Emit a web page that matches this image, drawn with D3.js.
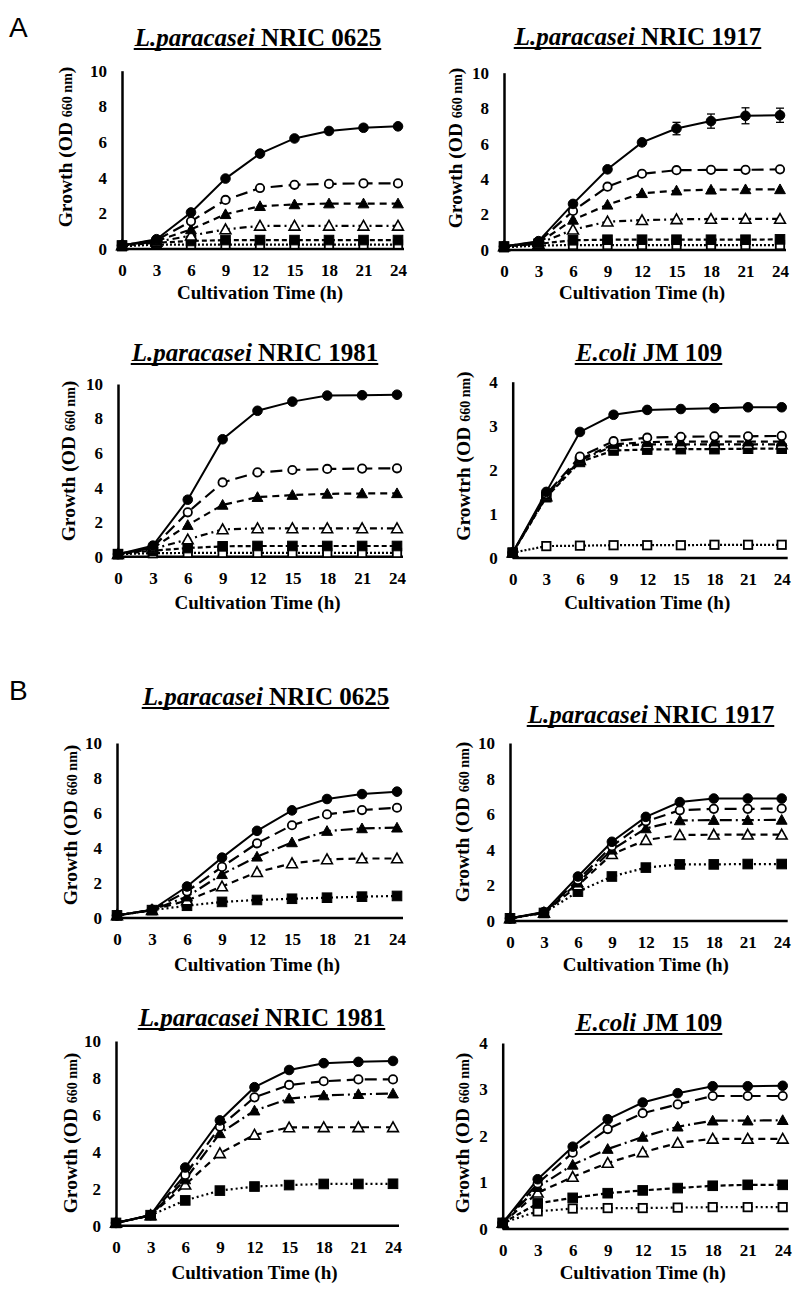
<!DOCTYPE html>
<html>
<head>
<meta charset="utf-8">
<script src="https://cdn.jsdelivr.net/npm/d3@7"></script>
<style>
  body { margin: 0; background: #fff; }
  svg text { font-family: "Liberation Serif", "Times New Roman", serif; font-weight: bold; fill: #000; }
  .panel-letter { font-family: "Liberation Sans", Arial, sans-serif; font-weight: normal; font-size: 28px; }
</style>
</head>
<body>
<div class="chart"></div>
<script>
// sampling times (h)
var hours = [0, 3, 6, 9, 12, 15, 18, 21, 24];
var odTicks10 = [0, 2, 4, 6, 8, 10];
var odTicks4 = [0, 1, 2, 3, 4];

// rows: filled circle, open circle, filled triangle, open triangle, filled square, open square
var a0625 = [
  [0.2, 0.55, 2.05, 3.95, 5.35, 6.2, 6.62, 6.8, 6.88],
  [0.2, 0.5, 1.55, 2.75, 3.42, 3.6, 3.65, 3.68, 3.68],
  [0.2, 0.45, 1.1, 1.95, 2.4, 2.5, 2.55, 2.55, 2.55],
  [0.2, 0.4, 0.75, 1.1, 1.3, 1.3, 1.3, 1.3, 1.3],
  [0.2, 0.35, 0.45, 0.5, 0.5, 0.5, 0.5, 0.5, 0.5],
  [0.15, 0.25, 0.25, 0.25, 0.25, 0.25, 0.25, 0.25, 0.25]
];
var a1917 = [
  [0.2, 0.5, 2.6, 4.55, 6.07, 6.85, 7.27, 7.57, 7.6],
  [0.2, 0.45, 2.2, 3.57, 4.3, 4.5, 4.52, 4.52, 4.55],
  [0.2, 0.4, 1.7, 2.55, 3.2, 3.35, 3.4, 3.42, 3.42],
  [0.2, 0.35, 1.15, 1.6, 1.68, 1.73, 1.75, 1.75, 1.75],
  [0.2, 0.35, 0.55, 0.58, 0.58, 0.58, 0.58, 0.58, 0.6],
  [0.15, 0.25, 0.28, 0.28, 0.28, 0.28, 0.28, 0.28, 0.28]
];
var a1917Err = [0, 0, 0.1, 0.1, 0.1, 0.35, 0.4, 0.45, 0.4];
var a1981 = [
  [0.15, 0.64, 3.3, 6.8, 8.45, 8.98, 9.33, 9.35, 9.38],
  [0.15, 0.55, 2.57, 4.3, 4.88, 5.02, 5.08, 5.1, 5.12],
  [0.15, 0.5, 1.83, 3.0, 3.45, 3.57, 3.64, 3.66, 3.67],
  [0.15, 0.45, 1.0, 1.58, 1.64, 1.64, 1.64, 1.64, 1.64],
  [0.15, 0.35, 0.5, 0.6, 0.62, 0.62, 0.62, 0.62, 0.62],
  [0.15, 0.2, 0.22, 0.22, 0.22, 0.22, 0.22, 0.22, 0.22]
];
var aJM109 = [
  [0.12, 1.5, 2.86, 3.25, 3.36, 3.38, 3.4, 3.42, 3.42],
  [0.12, 1.45, 2.3, 2.65, 2.73, 2.75, 2.76, 2.76, 2.77],
  [0.12, 1.42, 2.24, 2.58, 2.63, 2.64, 2.64, 2.64, 2.64],
  [0.12, 1.4, 2.22, 2.54, 2.58, 2.58, 2.58, 2.58, 2.58],
  [0.12, 1.38, 2.18, 2.44, 2.46, 2.47, 2.47, 2.48, 2.48],
  [0.12, 0.27, 0.28, 0.29, 0.29, 0.29, 0.3, 0.3, 0.3]
];
var b0625 = [
  [0.15, 0.47, 1.8, 3.45, 4.98, 6.15, 6.8, 7.08, 7.22],
  [0.15, 0.46, 1.52, 2.92, 4.27, 5.3, 5.92, 6.17, 6.3],
  [0.15, 0.45, 1.22, 2.5, 3.5, 4.32, 4.97, 5.12, 5.16],
  [0.15, 0.45, 1.0, 1.8, 2.62, 3.12, 3.35, 3.4, 3.4],
  [0.15, 0.45, 0.7, 0.92, 1.03, 1.1, 1.16, 1.22, 1.26]
];
var b1917 = [
  [0.15, 0.5, 2.5, 4.45, 5.85, 6.68, 6.88, 6.88, 6.88],
  [0.15, 0.48, 2.3, 4.2, 5.6, 6.22, 6.3, 6.3, 6.32],
  [0.15, 0.47, 2.15, 4.0, 5.2, 5.65, 5.67, 5.67, 5.68],
  [0.15, 0.46, 2.0, 3.75, 4.55, 4.83, 4.85, 4.85, 4.85],
  [0.15, 0.45, 1.65, 2.5, 3.0, 3.18, 3.18, 3.2, 3.2]
];
var b1981 = [
  [0.15, 0.58, 3.15, 5.7, 7.5, 8.43, 8.8, 8.87, 8.92],
  [0.15, 0.57, 2.75, 5.36, 6.95, 7.62, 7.82, 7.92, 7.92],
  [0.15, 0.56, 2.5, 5.0, 6.23, 6.88, 7.05, 7.12, 7.15],
  [0.15, 0.56, 2.22, 3.92, 4.92, 5.32, 5.33, 5.33, 5.33],
  [0.15, 0.57, 1.37, 1.9, 2.12, 2.2, 2.26, 2.26, 2.27]
];
var bJM109 = [
  [0.13, 1.07, 1.77, 2.36, 2.72, 2.92, 3.07, 3.07, 3.08],
  [0.13, 0.98, 1.64, 2.15, 2.49, 2.68, 2.86, 2.86, 2.86],
  [0.13, 0.9, 1.38, 1.72, 1.98, 2.2, 2.33, 2.33, 2.34],
  [0.13, 0.78, 1.12, 1.42, 1.65, 1.85, 1.94, 1.94, 1.94],
  [0.13, 0.55, 0.67, 0.77, 0.83, 0.88, 0.93, 0.95, 0.95],
  [0.13, 0.38, 0.44, 0.45, 0.45, 0.46, 0.47, 0.47, 0.47]
];

var markers = ["circle", "circle", "triangle", "triangle", "square", "square"];
var filled = [true, false, true, false, true, false];
var dashA = [null, "12,6", "7,5", "7,4,2,4", "5,3", "2,2"];
var dashB = [null, "12,6", "12,4,2,4", "7,5", "2,3"];
var dashB4 = [null, "12,6", "12,4,2,4", "7,5", "5,3", "2,3"];

// panel layout (pixel frame of each plot)
var panels = [
  {rows: a0625, dash: dashA, sp: "L.paracasei", st: " NRIC 0625", ymax: 10, ticks: odTicks10, ylab: "Growth (OD ",
   x0: 122, x1: 398, y0: 249, y1: 70.7, tx: 258, ty: 46, labX: 65, labY: 147, xtY: 299},
  {rows: a1917, err: a1917Err, dash: dashA, sp: "L.paracasei", st: " NRIC 1917", ymax: 10, ticks: odTicks10, ylab: "Growth (OD ",
   x0: 504, x1: 780, y0: 250, y1: 72.7, tx: 638, ty: 45, labX: 455, labY: 148, xtY: 299},
  {rows: a1981, dash: dashA, sp: "L.paracasei", st: " NRIC 1981", ymax: 10, ticks: odTicks10, ylab: "Growth (OD ",
   x0: 118, x1: 397, y0: 556.7, y1: 384, tx: 255, ty: 361, labX: 68, labY: 461, xtY: 609},
  {rows: aJM109, dash: dashA, sp: "E.coli", st: " JM 109", ymax: 4, ticks: odTicks4, ylab: "Growtrh (OD ",
   x0: 512.7, x1: 781.7, y0: 558, y1: 381.7, tx: 649, ty: 361, labX: 463, labY: 456, xtY: 609},
  {rows: b0625, dash: dashB, sp: "L.paracasei", st: " NRIC 0625", ymax: 10, ticks: odTicks10, ylab: "Growth (OD ",
   x0: 117, x1: 397, y0: 918, y1: 743, tx: 266, ty: 705, labX: 70, labY: 825, xtY: 971},
  {rows: b1917, dash: dashB, sp: "L.paracasei", st: " NRIC 1917", ymax: 10, ticks: odTicks10, ylab: "Growth (OD ",
   x0: 510, x1: 781.7, y0: 921, y1: 743, tx: 651, ty: 723, labX: 462, labY: 822, xtY: 971},
  {rows: b1981, dash: dashB, sp: "L.paracasei", st: " NRIC 1981", ymax: 10, ticks: odTicks10, ylab: "Growth (OD ",
   x0: 116, x1: 393, y0: 1225.7, y1: 1041, tx: 262, ty: 1026, labX: 70, labY: 1133, xtY: 1279},
  {rows: bJM109, dash: dashB4, sp: "E.coli", st: " JM 109", ymax: 4, ticks: odTicks4, ylab: "Growth (OD ",
   x0: 502.7, x1: 782.7, y0: 1229, y1: 1043, tx: 649, ty: 1031, labX: 462, labY: 1133, xtY: 1279}
];

var svg = d3.select(".chart").append("svg")
  .attr("width", 794)
  .attr("height", 1289);

svg.append("text").attr("class", "panel-letter").attr("x", 9).attr("y", 37).text("A");
svg.append("text").attr("class", "panel-letter").attr("x", 9).attr("y", 700).text("B");

function drawMarker(g, type, isFilled, cx, cy) {
  var fill = isFilled ? "#000" : "#fff";
  if (type === "circle") {
    g.append("circle").attr("cx", cx).attr("cy", cy).attr("r", isFilled ? 4.8 : 4.2)
      .attr("fill", fill).attr("stroke", "#000").attr("stroke-width", isFilled ? 1 : 1.8);
  } else if (type === "triangle") {
    var s = 5.4;
    g.append("path")
      .attr("d", `M${cx},${cy - s} L${cx + s},${cy + s * 0.8} L${cx - s},${cy + s * 0.8} Z`)
      .attr("fill", fill).attr("stroke", "#000").attr("stroke-width", isFilled ? 1 : 1.6);
  } else {
    var h = isFilled ? 4.8 : 4.2;
    g.append("rect").attr("x", cx - h).attr("y", cy - h).attr("width", 2 * h).attr("height", 2 * h)
      .attr("fill", fill).attr("stroke", "#000").attr("stroke-width", isFilled ? 1 : 1.8);
  }
}

panels.forEach(function(p) {
  var x = d3.scaleLinear().domain([0, 24]).range([p.x0, p.x1]);
  var y = d3.scaleLinear().domain([0, p.ymax]).range([p.y0, p.y1]);
  var g = svg.append("g");

  // y axis
  var yAxis = g.append("g")
    .attr("transform", `translate(${p.x0},0)`)
    .call(d3.axisLeft(y).tickValues(p.ticks).tickFormat(d3.format("d"))
      .tickSize(0).tickSizeOuter(0).tickPadding(15));
  yAxis.select(".domain").attr("stroke", "#000").attr("stroke-width", 2.5);
  yAxis.selectAll("text").style("font-size", "17px").style("font-family", "Liberation Serif").style("font-weight", "bold");

  // x axis
  var xAxis = g.append("g")
    .attr("transform", `translate(0,${p.y0})`)
    .call(d3.axisBottom(x).tickValues(hours).tickSize(0).tickSizeOuter(0).tickPadding(15));
  xAxis.select(".domain").remove();
  xAxis.selectAll("text").style("font-size", "17px").style("font-family", "Liberation Serif").style("font-weight", "bold");
  g.append("line")
    .attr("x1", x(0)).attr("x2", x(24) + 6)
    .attr("y1", y(0)).attr("y2", y(0))
    .attr("stroke", "#000").attr("stroke-width", 2.5);

  // lines
  var line = d3.line().x(function(d, i) { return x(hours[i]); }).y(function(d) { return y(d); });
  p.rows.forEach(function(row, k) {
    g.append("path")
      .attr("d", line(row))
      .attr("fill", "none")
      .attr("stroke", "#000")
      .attr("stroke-width", k === 0 ? 2 : 2.2)
      .attr("stroke-dasharray", p.dash[k]);
  });

  // error bars
  if (p.err) {
    p.err.forEach(function(e, i) {
      if (!e) return;
      var cx = x(hours[i]);
      var v = p.rows[0][i];
      g.append("line").attr("x1", cx).attr("x2", cx).attr("y1", y(v - e)).attr("y2", y(v + e))
        .attr("stroke", "#000").attr("stroke-width", 1.3);
      [v - e, v + e].forEach(function(w) {
        g.append("line").attr("x1", cx - 4).attr("x2", cx + 4).attr("y1", y(w)).attr("y2", y(w))
          .attr("stroke", "#000").attr("stroke-width", 1.3);
      });
    });
  }

  // markers, last series first so the filled circles end on top
  for (var k = p.rows.length - 1; k >= 0; k--) {
    p.rows[k].forEach(function(v, i) {
      drawMarker(g, markers[k], filled[k], x(hours[i]), y(v));
    });
  }

  // title with underline
  var title = g.append("text")
    .attr("x", p.tx).attr("y", p.ty)
    .attr("text-anchor", "middle")
    .style("font-size", "25px");
  title.append("tspan").style("font-style", "italic").text(p.sp);
  title.append("tspan").text(p.st);
  var bb = title.node().getBBox();
  g.append("line")
    .attr("x1", bb.x).attr("x2", bb.x + bb.width)
    .attr("y1", p.ty + 3).attr("y2", p.ty + 3)
    .attr("stroke", "#000").attr("stroke-width", 2);

  // y label
  var yl = g.append("text")
    .attr("transform", `translate(${p.labX},${p.labY}) rotate(-90)`)
    .attr("text-anchor", "middle")
    .attr("dy", "0.35em")
    .style("font-size", "19.5px");
  yl.append("tspan").text(p.ylab);
  yl.append("tspan").style("font-size", "14px").text("660 nm");
  yl.append("tspan").text(")");

  // x label
  g.append("text")
    .attr("x", (p.x0 + p.x1) / 2)
    .attr("y", p.xtY)
    .attr("text-anchor", "middle")
    .style("font-size", "19px")
    .text("Cultivation Time (h)");
});
</script>
</body>
</html>
